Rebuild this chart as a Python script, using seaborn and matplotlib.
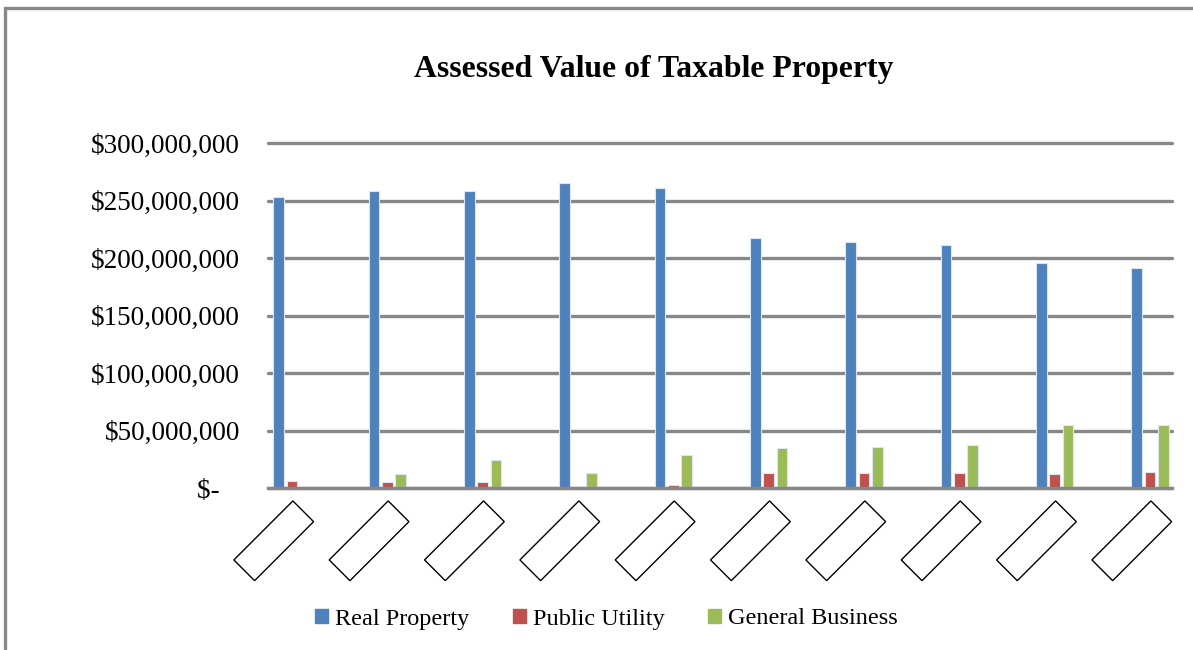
import matplotlib
matplotlib.use("Agg")
import matplotlib.pyplot as plt
import matplotlib.patches as mpatches
from matplotlib.transforms import ScaledTranslation
import seaborn as sns
import pandas as pd
import numpy as np

# ---- data (values in dollars) ----
categories = [f"Y{i}" for i in range(1, 11)]  # category labels are blank boxes in the source
real_property = [253e6, 258e6, 258e6, 265e6, 261e6, 217e6, 213.5e6, 211e6, 195.5e6, 191e6]
public_utility = [6e6, 5.5e6, 5e6, 0, 2.6e6, 12.8e6, 12.8e6, 13.4e6, 12e6, 14e6]
general_business = [0, 12e6, 24e6, 12.8e6, 29e6, 35.2e6, 35.4e6, 37e6, 55e6, 54.5e6]
series_names = ["Real Property", "Public Utility", "General Business"]
y_ticks = [0, 50e6, 100e6, 150e6, 200e6, 250e6, 300e6]
y_tick_labels = ["$-   ", "$50,000,000", "$100,000,000", "$150,000,000",
                 "$200,000,000", "$250,000,000", "$300,000,000"]
title = "Assessed Value of Taxable Property"
colors = ["#4F81BD", "#C0504D", "#9BBB59"]

df = pd.DataFrame({
    "category": categories * 3,
    "series": [series_names[0]] * 10 + [series_names[1]] * 10 + [series_names[2]] * 10,
    "value": real_property + public_utility + general_business,
})

sns.set_theme(style="white")
plt.rcParams["font.family"] = ["Liberation Serif", "DejaVu Serif"]
plt.rcParams["text.color"] = "black"
plt.rcParams["ytick.color"] = "black"
plt.rcParams["xtick.color"] = "black"

fig = plt.figure(figsize=(11.93, 6.5), dpi=100)
W, H = 1193, 650
ax = fig.add_axes([268 / W, 1 - 488 / H, (1172 - 268) / W, (488 - 143) / H])

sns.barplot(data=df, x="category", y="value", hue="series", order=categories,
            hue_order=series_names, palette=colors, width=0.42, gap=0.2,
            saturation=1, ax=ax, legend=False, linewidth=0.8, edgecolor="#dde6f0")

ax.set_ylim(0, 300e6)
ax.set_xlim(-0.252, 9.23)
ax.set_yticks(y_ticks)
ax.set_yticklabels(y_tick_labels, fontsize=19.5)
ax.tick_params(axis="y", length=0, pad=20)
ax.yaxis.grid(True, color="#878787", linewidth=2.4)
for gl in ax.get_ygridlines():
    gl.set_clip_on(False)
ax.set_axisbelow(True)
for s in ["top", "right", "left"]:
    ax.spines[s].set_visible(False)
ax.spines["bottom"].set_color("#878787")
ax.spines["bottom"].set_linewidth(2.4)
ax.set_xlabel("")
ax.set_ylabel("")

# blank boxed category labels
ax.set_xticks(range(len(categories)))
blank = "\u00a0" * 17
ax.set_xticklabels([blank] * len(categories))
ax.tick_params(axis="x", length=0, pad=0)
off = ScaledTranslation(6.5 / 100, -28 / 100, fig.dpi_scale_trans)
for lab in ax.get_xticklabels():
    lab.set_rotation(45)
    lab.set_rotation_mode("anchor")
    lab.set_ha("right")
    lab.set_va("center")
    lab.set_fontsize(12)
    lab.set_bbox(dict(boxstyle="square,pad=0.4", facecolor="white",
                      edgecolor="black", linewidth=1.0))
    lab.set_transform(lab.get_transform() + off)

fig.text(654 / W, 1 - 70 / H, title, ha="center", va="center",
         fontsize=22.9, fontweight="bold")

handles = [mpatches.Patch(color=c, label=n) for c, n in zip(colors, series_names)]
fig.legend(handles=handles, loc="center", bbox_to_anchor=(606.5 / W, 1 - 619 / H),
           ncol=3, frameon=False, fontsize=17.5, handlelength=0.52, handleheight=0.52,
           handletextpad=0.3, columnspacing=1.8)

# outer chart frame
fig.patches.append(mpatches.Rectangle((5 / W, -0.05), 1.2, 1 - 8 / H + 0.05,
                                      transform=fig.transFigure, fill=False,
                                      edgecolor="#878787", linewidth=2.4))

fig.savefig("out.png", dpi=100)
